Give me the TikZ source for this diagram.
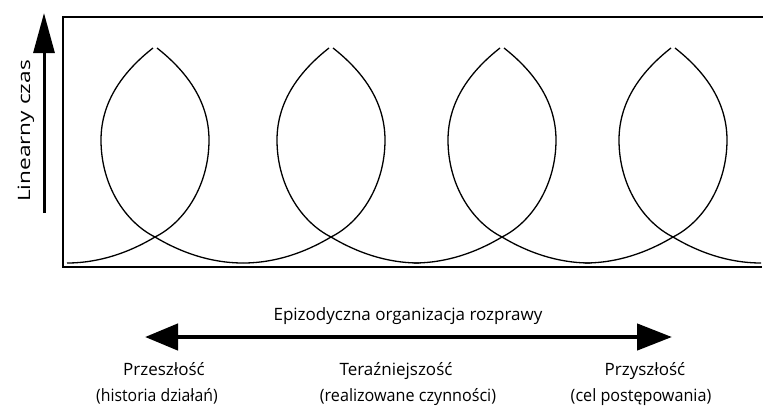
\documentclass[tikz,border=0pt]{standalone}
\usepackage{fontspec}
\usepackage{graphicx}
\setmainfont{Open Sans}
\usetikzlibrary{arrows.meta}
\begin{document}
\begin{tikzpicture}[x=1pt,y=-1pt,
  frame/.style={line width=2pt,black},
  loopline/.style={line width=1.3pt,black},
  lbl/.style={font=\fontsize{17}{20}\selectfont,anchor=base,inner sep=0pt},
]
\useasboundingbox (0,0) rectangle (763,416);
% frame (open on the right)
\coordinate (tr) at (763,17);
\coordinate (tl) at (63,17);
\coordinate (bl) at (63,267);
\coordinate (br) at (762,267);
\draw[frame] (tr) -- (tl) -- (bl) -- (br);
% loops
\foreach \x in {155,331,502,673}{
  \begin{scope}[xshift=\x pt]
    \draw[loopline] (-2,48) .. controls (-30,70) and (-54,100) .. (-54,140)
                           .. controls (-54,185) and (-30,222) .. (0,237)
                           .. controls (25,252) and (55,263) .. (88,263);
    \draw[loopline] (2,48) .. controls (30,70) and (54,100) .. (54,140)
                           .. controls (54,185) and (30,222) .. (0,237)
                           .. controls (-25,252) and (-55,263) .. (-88,263);
  \end{scope}
}
% vertical arrow
\coordinate (vs) at (44,213);
\coordinate (ve) at (44,13);
\draw[line width=3pt,-{Triangle[length=40pt,width=21pt]}] (vs) -- (ve);
\node[lbl,rotate=90,anchor=center] (lin) at (26,131) {\scalebox{1.33}[1]{Linearny czas}};
% horizontal arrow
\coordinate (hl) at (145,337);
\coordinate (hr) at (672,337);
\draw[line width=4.5pt,{Triangle[length=33pt,width=26pt]}-{Triangle[length=35pt,width=26pt]}] (hl) -- (hr);
\node[lbl] (epi) at (408,320) {Epizodyczna organizacja rozprawy};
% labels
\node[lbl] (p1) at (164,375) {Przeszłość};
\node[lbl] (p2) at (157,401) {\scalebox{0.93}[1]{(historia działań)}};
\node[lbl] (t1) at (396,375) {Teraźniejszość};
\node[lbl] (t2) at (408,401) {\scalebox{0.95}[1]{(realizowane czynności)}};
\node[lbl] (f1) at (645,375) {Przyszłość};
\node[lbl] (f2) at (641,401) {\scalebox{0.95}[1]{(cel postępowania)}};
\end{tikzpicture}
\end{document}
